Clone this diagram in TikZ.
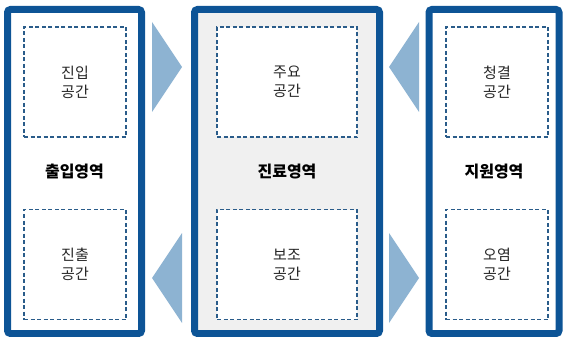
\documentclass[tikz,border=0pt]{standalone}
\usepackage{fontspec}
\setmainfont{Noto Sans CJK KR}
\definecolor{zoneblue}{HTML}{0D5496}
\definecolor{flowblue}{HTML}{8DB3D2}
\definecolor{spaceblue}{HTML}{2A5C8A}
\definecolor{carefill}{HTML}{F0F0F0}
\tikzset{
	zone/.style={draw=zoneblue,line width=7pt,rounded corners=3pt,minimum height=324pt,inner sep=0pt},
	space/.style={draw=spaceblue,line width=1.8pt,dash pattern=on 4pt off 2.5pt,fill=white,minimum height=110pt,inner sep=0pt,align=center,text=black!85,font=\fontsize{15}{19}\selectfont},
	zonelabel/.style={text=black,font=\fontsize{16}{19}\selectfont\bfseries},
	flow/.style={fill=flowblue}
}

\begin{document}
\begin{tikzpicture}[x=1pt,y=-1pt]
	\useasboundingbox (0,0) rectangle (563,337);
	\node[zone,minimum width=134pt] (entry) at (74.5,171.5) {};
	\node[zone,fill=carefill,minimum width=185pt] (care) at (287,171.5) {};
	\node[zone,minimum width=130pt] (support) at (494,171.5) {};
	\node[zonelabel] (entrylabel) at (entry) {출입영역};
	\node[zonelabel] (carelabel) at (care) {진료영역};
	\node[zonelabel] (supportlabel) at (support) {지원영역};
	\node[space,minimum width=102pt] (inbound) at (75,82) {진입\\공간};
	\node[space,minimum width=102pt] (outbound) at (75,264.5) {진출\\공간};
	\node[space,minimum width=140pt] (main) at (287,82) {주요\\공간};
	\node[space,minimum width=140pt] (aux) at (287,264.5) {보조\\공간};
	\node[space,minimum width=102pt] (clean) at (497,82) {청결\\공간};
	\node[space,minimum width=102pt] (dirty) at (497,264.5) {오염\\공간};
	\fill[flow] (152,22) -- (182,67) -- (152,112) -- cycle;
	\fill[flow] (419,22) -- (389,67) -- (419,112) -- cycle;
	\fill[flow] (182,233) -- (152,278) -- (182,323) -- cycle;
	\fill[flow] (389,233) -- (419,278) -- (389,323) -- cycle;
\end{tikzpicture}
\end{document}
